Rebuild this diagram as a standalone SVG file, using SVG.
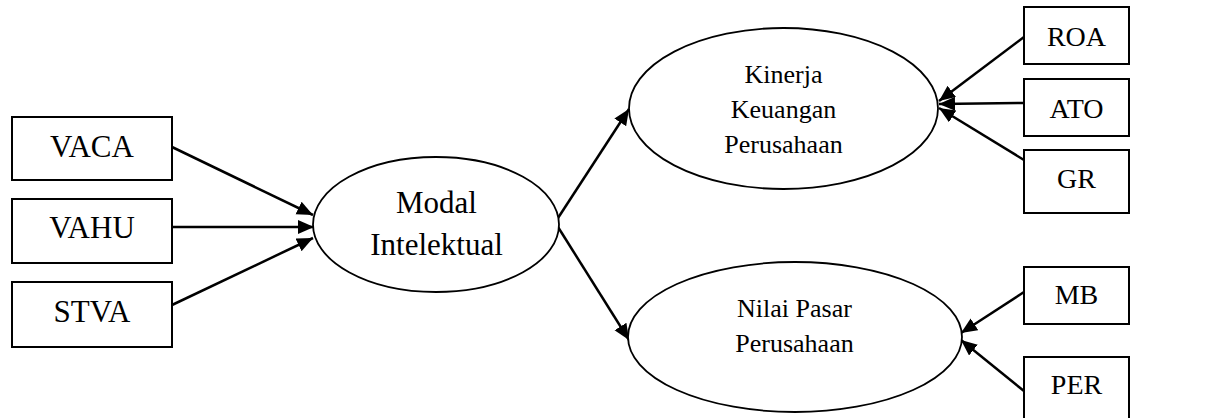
<svg xmlns="http://www.w3.org/2000/svg" width="1215" height="418" viewBox="0 0 1215 418">
<defs>
<style>
.box{fill:#fff;stroke:#000;stroke-width:2}
.ell{fill:#fff;stroke:#000;stroke-width:1.8}
.t{font-family:'Liberation Serif','Times New Roman',Times,'DejaVu Serif',serif;fill:#000;text-anchor:middle}
.conn{stroke:#000;stroke-width:2.5;fill:none;marker-end:url(#ah)}
</style>
<marker id="ah" markerUnits="userSpaceOnUse" markerWidth="17" markerHeight="15" refX="16" refY="7" orient="auto">
<path d="M0,0 L16,7 L0,14 z" fill="#000"/>
</marker>
</defs>
<rect width="1215" height="418" fill="#fff"/>
<g id="connectors">
<line class="conn" x1="172" y1="147" x2="313" y2="215"/>
<line class="conn" x1="172" y1="227" x2="314" y2="227"/>
<line class="conn" x1="172" y1="305" x2="313" y2="238"/>
<line class="conn" x1="558" y1="218" x2="629" y2="109"/>
<line class="conn" x1="558" y1="227" x2="629" y2="340"/>
<line class="conn" x1="1024" y1="37" x2="939" y2="101"/>
<line class="conn" x1="1024" y1="103" x2="939" y2="104"/>
<line class="conn" x1="1024" y1="160" x2="939" y2="108"/>
<line class="conn" x1="1024" y1="292" x2="961" y2="333"/>
<line class="conn" x1="1024" y1="391" x2="961" y2="340"/>
</g>
<g id="VACA"><rect class="box" x="12" y="117" width="160" height="63"/><text class="t" x="92" y="157" font-size="31">VACA</text></g>
<g id="VAHU"><rect class="box" x="12" y="199" width="160" height="64"/><text class="t" x="92" y="238" font-size="31">VAHU</text></g>
<g id="STVA"><rect class="box" x="12" y="282" width="160" height="65"/><text class="t" x="92" y="322" font-size="31">STVA</text></g>
<g id="modal"><ellipse class="ell" cx="436" cy="224.5" rx="123" ry="67.5"/><text class="t" x="436.5" y="213" font-size="31">Modal</text><text class="t" x="436.5" y="255" font-size="31">Intelektual</text></g>
<g id="kinerja"><ellipse class="ell" cx="783.5" cy="108.5" rx="154.5" ry="80.5"/><text class="t" x="783.5" y="83" font-size="26">Kinerja</text><text class="t" x="783.5" y="118" font-size="26">Keuangan</text><text class="t" x="783.5" y="153" font-size="26">Perusahaan</text></g>
<g id="nilai"><ellipse class="ell" cx="795" cy="337" rx="167" ry="75"/><text class="t" x="794.5" y="317" font-size="26">Nilai Pasar</text><text class="t" x="794.5" y="352" font-size="26">Perusahaan</text></g>
<g id="ROA"><rect class="box" x="1024" y="7" width="105" height="57"/><text class="t" x="1076.5" y="46" font-size="28">ROA</text></g>
<g id="ATO"><rect class="box" x="1024" y="79" width="105" height="57"/><text class="t" x="1076.5" y="118" font-size="28">ATO</text></g>
<g id="GR"><rect class="box" x="1024" y="150" width="105" height="63"/><text class="t" x="1076.5" y="188" font-size="28">GR</text></g>
<g id="MB"><rect class="box" x="1024" y="267" width="105" height="57"/><text class="t" x="1076.5" y="304" font-size="28">MB</text></g>
<g id="PER"><rect class="box" x="1024" y="357" width="105" height="70"/><text class="t" x="1076.5" y="394" font-size="28">PER</text></g>
</svg>
